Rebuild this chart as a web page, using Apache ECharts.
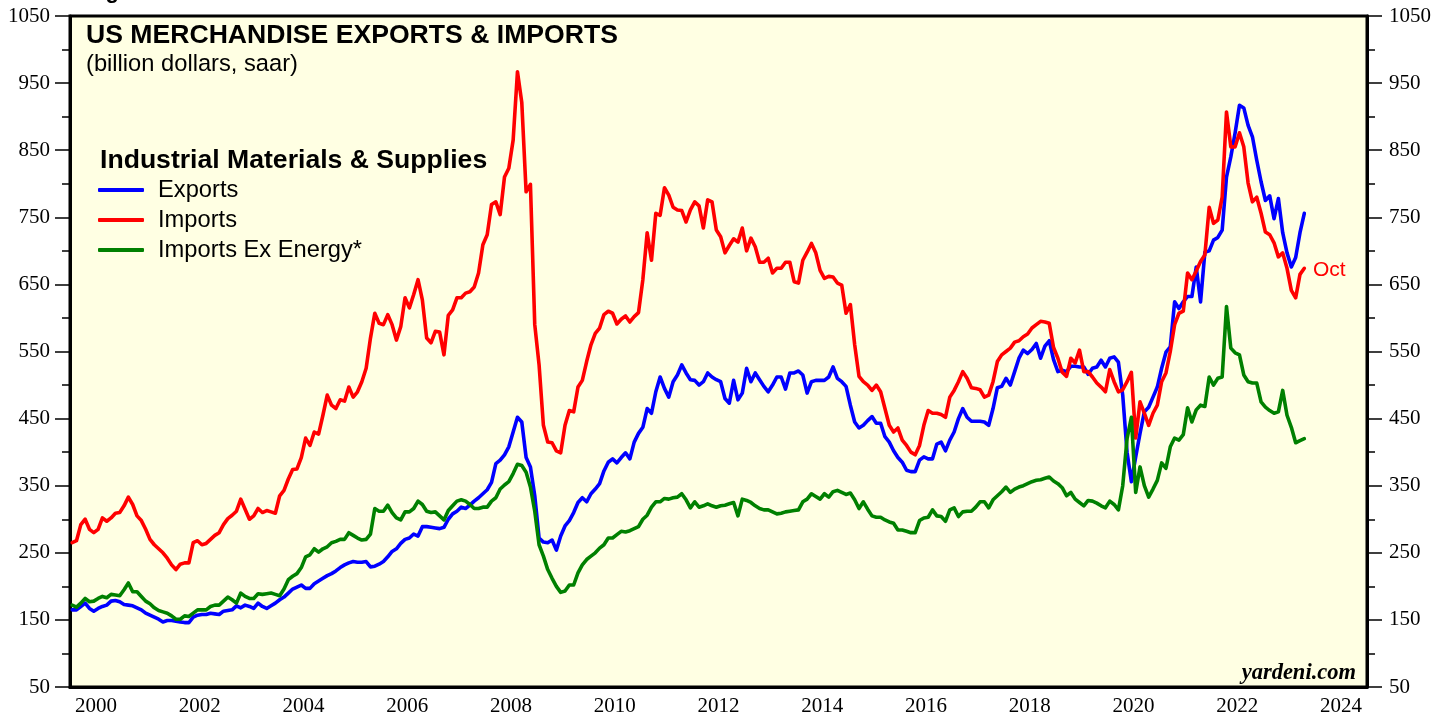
<!DOCTYPE html>
<html>
<head>
<meta charset="utf-8">
<title>US Merchandise Exports &amp; Imports</title>
<script src="https://cdn.jsdelivr.net/npm/echarts/dist/echarts.min.js"></script>
<style>
  html, body { margin: 0; padding: 0; background: #ffffff; }
  #chart { width: 1448px; height: 719px; }
</style>
</head>
<body>
<div id="chart"></div>
<script>
// monthly values, Jan 2000 .. Oct 2023 (billion dollars, saar)
var exportsData = [
    165, 165, 170, 175, 167, 163, 167, 170, 172, 178, 179, 177,   // 2000
    173, 172, 171, 168, 165, 160, 157, 154, 151, 147, 149, 149,   // 2001
    148, 147, 146, 146, 154, 157, 158, 158, 160, 159, 158, 163,   // 2002
    164, 165, 171, 168, 172, 170, 167, 175, 170, 167, 171, 175,   // 2003
    180, 184, 190, 196, 199, 202, 197, 197, 204, 208, 212, 216,   // 2004
    219, 223, 228, 232, 235, 237, 236, 236, 237, 229, 230, 233,   // 2005
    237, 244, 252, 256, 264, 270, 272, 278, 275, 289, 289, 288,   // 2006
    287, 286, 288, 300, 308, 312, 318, 316, 321, 327, 332, 338,   // 2007
    344, 355, 383, 388, 396, 408, 430, 452, 445, 392, 378, 335,   // 2008
    272, 266, 265, 269, 254, 275, 290, 298, 310, 325, 332, 326,   // 2009
    338, 345, 353, 372, 385, 390, 384, 392, 399, 390, 415, 428,   // 2010
    437, 465, 458, 490, 512, 495, 482, 505, 515, 530, 518, 508,   // 2011
    507, 500, 505, 518, 512, 508, 505, 480, 473, 507, 478, 488,   // 2012
    525, 505, 518, 508, 498, 490, 500, 512, 512, 494, 518, 518,   // 2013
    521, 515, 488, 505, 507, 507, 507, 512, 527, 510, 505, 498,   // 2014
    470, 445, 436, 440, 447, 453, 443, 443, 423, 415, 402, 392,   // 2015
    385, 373, 371, 371, 388, 393, 390, 390, 412, 415, 402, 418,   // 2016
    430, 450, 465, 452, 446, 446, 446, 445, 440, 465, 496, 498,   // 2017
    510, 500, 520, 540, 552, 547, 553, 562, 540, 558, 566, 538,   // 2018
    520, 522, 520, 528, 528, 527, 527, 516, 525, 527, 537, 527,   // 2019
    540, 542, 534, 485, 400, 356, 393, 428, 460, 467, 482, 497,   // 2020
    525, 549, 557, 624, 614, 624, 632, 632, 676, 624, 698, 700,   // 2021
    716, 720, 731, 810, 840, 876, 917, 913, 887, 870, 835, 803,   // 2022
    775, 782, 748, 778, 727, 697, 676, 690, 727, 756              // 2023
];
var importsData = [
    265, 268, 292, 300, 285, 280, 285, 302, 297, 302, 309, 310,   // 2000
    320, 333, 322, 305, 298, 285, 270, 262, 256, 250, 242, 232,   // 2001
    225, 233, 235, 235, 265, 268, 262, 264, 270, 276, 280, 292,   // 2002
    301, 306, 312, 330, 315, 300, 305, 316, 310, 313, 311, 309,   // 2003
    335, 343, 360, 374, 375, 392, 421, 410, 430, 427, 455, 485,   // 2004
    470, 465, 478, 476, 497, 482, 490, 505, 525, 570, 607, 592,   // 2005
    590, 605, 590, 567, 587, 630, 615, 635, 657, 627, 570, 563,   // 2006
    580, 579, 545, 604, 612, 630, 630, 637, 639, 646, 667, 709,   // 2007
    724, 769, 773, 754, 810, 823, 865, 967, 921, 788, 799, 590,   // 2008
    530, 440, 415, 414, 402, 399, 440, 462, 460, 497, 507, 535,   // 2009
    560, 577, 585, 605, 610, 607, 591, 598, 603, 594, 602, 608,   // 2010
    657, 727, 686, 756, 753, 794, 783, 765, 761, 760, 743, 761,   // 2011
    773, 767, 734, 776, 773, 731, 721, 697, 708, 718, 713, 734,   // 2012
    700, 719, 706, 683, 683, 689, 667, 674, 674, 683, 683, 654,   // 2013
    652, 686, 698, 711, 697, 671, 659, 662, 661, 652, 649, 607,   // 2014
    620, 560, 513, 505, 500, 492, 500, 490, 465, 440, 430, 436,   // 2015
    418, 410, 400, 396, 410, 440, 462, 458, 458, 456, 452, 482,   // 2016
    492, 505, 520, 510, 496, 495, 493, 482, 485, 505, 535, 545,   // 2017
    550, 555, 564, 566, 572, 576, 585, 590, 595, 594, 592, 556,   // 2018
    540, 519, 513, 540, 533, 552, 520, 520, 512, 503, 497, 490,   // 2019
    523, 505, 490, 493, 505, 519, 421, 475, 458, 440, 458, 470,   // 2020
    505, 518, 550, 590, 607, 610, 667, 657, 670, 684, 694, 765,   // 2021
    741, 746, 780, 907, 855, 855, 876, 855, 801, 773, 780, 756,   // 2022
    728, 724, 712, 691, 697, 674, 641, 630, 665, 674              // 2023
];
var importsExEnergyData = [
    172, 169, 175, 182, 177, 178, 182, 185, 183, 188, 187, 186,   // 2000
    195, 205, 192, 192, 185, 178, 174, 168, 164, 162, 160, 156,   // 2001
    151, 151, 156, 155, 160, 165, 165, 165, 170, 172, 172, 178,   // 2002
    184, 180, 175, 190, 185, 182, 182, 189, 188, 189, 190, 188,   // 2003
    186, 196, 210, 215, 219, 228, 244, 247, 256, 251, 256, 259,   // 2004
    265, 267, 270, 270, 280, 276, 272, 269, 270, 278, 316, 312,   // 2005
    312, 321, 310, 302, 299, 311, 311, 316, 327, 322, 312, 310,   // 2006
    311, 305, 299, 313, 320, 327, 329, 327, 322, 316, 316, 318,   // 2007
    318, 327, 332, 345, 351, 356, 368, 382, 380, 370, 348, 312,   // 2008
    262, 245, 225, 212, 200, 191, 193, 202, 202, 220, 232, 240,   // 2009
    245, 250, 257, 262, 272, 272, 277, 282, 281, 283, 286, 289,   // 2010
    300, 306, 318, 326, 326, 331, 330, 332, 333, 338, 329, 317,   // 2011
    326, 318, 320, 323, 320, 318, 320, 321, 323, 325, 305, 330,   // 2012
    328, 325, 320, 316, 314, 314, 311, 308, 309, 311, 312, 313,   // 2013
    314, 326, 330, 338, 334, 330, 338, 333, 341, 343, 340, 337,   // 2014
    339, 329, 316, 326, 315, 305, 303, 303, 299, 296, 294, 284,   // 2015
    284, 282, 280, 280, 298, 302, 303, 314, 305, 304, 297, 314,   // 2016
    317, 304, 311, 312, 312, 318, 326, 326, 317, 329, 335, 341,   // 2017
    348, 340, 345, 348, 350, 353, 356, 358, 359, 361, 363, 357,   // 2018
    353, 347, 335, 340, 330, 325, 320, 328, 327, 324, 320, 317,   // 2019
    327, 322, 314, 350, 420, 452, 340, 378, 350, 333, 345, 358,   // 2020
    384, 376, 408, 421, 418, 426, 466, 445, 463, 470, 468, 512,   // 2021
    500, 510, 512, 617, 555, 548, 545, 515, 505, 503, 503, 475,   // 2022
    467, 462, 458, 460, 492, 455, 437, 414, 417, 420              // 2023
];
var seriesNames = ['Exports', 'Imports', 'Imports Ex Energy*'];
var seriesColors = ['#0000ff', '#ff0000', '#008000'];
var yearLabels = ['2000', '2001', '2002', '2003', '2004', '2005', '2006', '2007', '2008',
    '2009', '2010', '2011', '2012', '2013', '2014', '2015', '2016', '2017', '2018',
    '2019', '2020', '2021', '2022', '2023', '2024'];
var firstYear = 2000;
var lastYear = 2025;

// each month is placed at its middle
function toPoints(values) {
    return values.map(function (v, i) {
        return [firstYear + (i + 0.5) / 12, v];
    });
}

var serif = '"Liberation Serif", "Times New Roman", serif';
var sans = '"Liberation Sans", Arial, Helvetica, sans-serif';

var chart = echarts.init(document.getElementById('chart'), null, {renderer: 'canvas'});

function yAxisFor(pos, margin) {
    return {
        type: 'value',
        position: pos,
        min: 50,
        max: 1050,
        interval: 100,
        axisLine: {show: true, lineStyle: {color: '#000', width: 3}},
        axisTick: {show: true, length: 15, lineStyle: {color: '#000', width: 1.5}},
        minorTick: {show: true, splitNumber: 2, length: 8, lineStyle: {color: '#000', width: 1.5}},
        axisLabel: {
            margin: margin, color: '#000', fontFamily: serif, fontSize: 21,
            formatter: function (v) { return String(v); }   // no thousands comma
        },
        splitLine: {show: false}
    };
}

var lineSeries = [exportsData, importsData, importsExEnergyData].map(function (vals, k) {
    return {
        name: seriesNames[k],
        type: 'line',
        xAxisIndex: 1,
        yAxisIndex: 0,
        data: toPoints(vals),
        showSymbol: false,
        symbol: 'none',
        color: seriesColors[k],
        lineStyle: {color: seriesColors[k], width: 3.6, cap: 'round', join: 'round'},
        emphasis: {disabled: true}
    };
});

var option = {
    animation: false,
    backgroundColor: '#ffffff',
    grid: {
        left: 70, right: 81, top: 16, bottom: 32,
        show: true,
        backgroundColor: '#ffffe3',
        borderColor: '#000',
        borderWidth: 3
    },
    legend: {
        orient: 'vertical',
        left: 98,
        top: 178,
        padding: 0,
        itemWidth: 46,
        itemHeight: 4,
        itemGap: 6,
        icon: 'roundRect',
        selectedMode: false,
        data: seriesNames,
        textStyle: {fontFamily: sans, fontSize: 23.7, color: '#000', lineHeight: 22, padding: [0, 0, 0, 9]}
    },
    xAxis: [
        {
            // year bands, label in the middle of each band
            type: 'category',
            data: yearLabels,
            boundaryGap: true,
            position: 'bottom',
            axisLine: {lineStyle: {color: '#000', width: 3}},
            axisTick: {interval: 0, length: 12, lineStyle: {color: '#000', width: 1.5}},
            axisLabel: {interval: 1, margin: 9, color: '#000', fontFamily: serif, fontSize: 21},
            splitLine: {show: false}
        },
        {
            type: 'value',
            min: firstYear,
            max: lastYear,
            show: false
        }
    ],
    yAxis: [yAxisFor('left', 20), yAxisFor('right', 22)],
    series: lineSeries,
    graphic: [
        {type: 'text', z: 100, style: {text: 'Figure 5.', x: 86, y: -8, verticalAlign: 'middle',
            font: 'bold 22px ' + sans, fill: '#000'}},
        {type: 'text', z: 100, style: {text: 'US MERCHANDISE EXPORTS & IMPORTS', x: 86, y: 36, verticalAlign: 'middle',
            font: 'bold 26.6px ' + sans, fill: '#000'}},
        {type: 'text', z: 100, style: {text: '(billion dollars, saar)', x: 86, y: 64, verticalAlign: 'middle',
            font: '23.7px ' + sans, fill: '#000'}},
        {type: 'text', z: 100, style: {text: 'Industrial Materials & Supplies', x: 100, y: 161, verticalAlign: 'middle',
            font: 'bold 26.6px ' + sans, fill: '#000'}},
        {type: 'text', z: 100, style: {text: 'Oct', x: 1313, y: 270, verticalAlign: 'middle',
            font: '21px ' + sans, fill: '#ff0000'}},
        {type: 'text', z: 100, style: {text: 'yardeni.com', x: 1356, y: 673, align: 'right', verticalAlign: 'middle',
            font: 'italic bold 22.5px ' + serif, fill: '#000'}}
    ]
};

chart.setOption(option);
</script>
</body>
</html>
